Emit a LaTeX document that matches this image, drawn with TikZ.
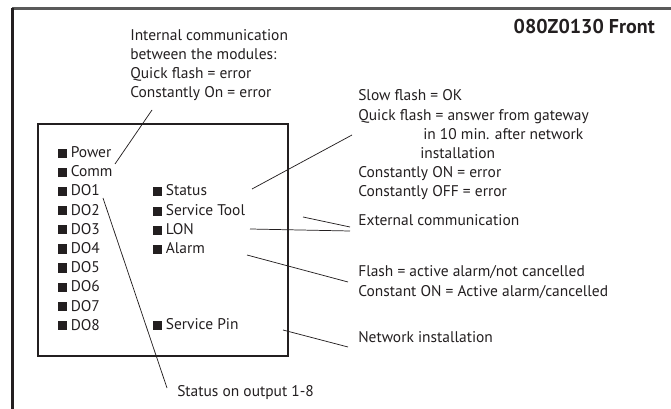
\documentclass[tikz,border=0pt]{standalone}
\usepackage{fontspec}
\setmainfont{PT Sans}
\usetikzlibrary{positioning}
\definecolor{ink}{HTML}{231F20}
\definecolor{rulegray}{HTML}{5A5A5A}
\newcommand{\ledsq}{\rule{6.8pt}{7pt}\hspace{2.6pt}}

\begin{document}
\begin{tikzpicture}[x=0.75pt, y=-0.75pt,
  led/.style={anchor=base west, inner sep=0pt, font=\fontsize{11.6}{14.4}\selectfont, text=ink},
  note/.style={anchor=west, align=left, inner sep=0pt, font=\fontsize{11.6}{14.4}\selectfont, text=ink},
  lead/.style={draw=ink, line width=0.55pt}
]
\useasboundingbox (0,0) rectangle (671,409);

% page frame
\draw[line width=1.6pt, rulegray] (12,8.5) -- (671,8.5);
\draw[line width=1.6pt, ink] (12.5,8) -- (12.5,409);

\node[anchor=east, inner sep=0pt, font=\fontsize{15}{18}\selectfont\bfseries, text=ink] (title) at (655,27) {080Z0130 Front};

% front panel
\node[draw=ink, line width=0.8pt, minimum width=187.5pt, minimum height=174pt, inner sep=0pt] (panel) at (163,240) {};

\node[led] (power) at (58,158) {\ledsq Power};
\node[led] (comm) at (58,177) {\ledsq Comm};
\foreach \i in {1,...,8}
  \node[led] (do\i) at (58,{196+19.2*(\i-1)}) {\ledsq DO\i};
\node[led] (status) at (153,196) {\ledsq Status};
\node[led] (tool) at (153,216) {\ledsq Service Tool};
\node[led] (lon) at (153,235) {\ledsq LON};
\node[led] (alarm) at (153,254) {\ledsq Alarm};
\node[led] (pin) at (153,330) {\ledsq Service Pin};

% explanations
\node[note] (internal) at (130,65) {Internal communication\\between the modules:\\Quick flash = error\\Constantly On = error};
\node[note] (flashes) at (358,145) {Slow flash = OK\\Quick flash = answer from gateway\\\hspace*{48.75pt}in 10 min. after network\\\hspace*{46.5pt}installation\\Constantly ON = error\\Constantly OFF = error};
\node[note] (external) at (358,220) {External communication};
\node[note] (alarmtxt) at (358,282) {Flash = active alarm/not cancelled\\Constant ON = Active alarm/cancelled};
\node[note] (network) at (358,337) {Network installation};
\node[note] (outputs) at (177,393) {Status on output 1-8};

% leader lines
\coordinate (internalTip) at (152,110);
\coordinate (commTip) at (115,164);
\coordinate (statusTip) at (252,189);
\coordinate (flashesTip) at (352,135);
\coordinate (toolTip) at (303,217);
\coordinate (lonTip) at (250,229);
\coordinate (externalTop) at (350,227);
\coordinate (externalBot) at (350,231);
\coordinate (alarmTip) at (247,255);
\coordinate (alarmtxtTip) at (348,282);
\coordinate (pinTip) at (283,330);
\coordinate (networkTip) at (348,347);
\coordinate (doTip) at (103,198);
\coordinate (outputsTip) at (167,388);

\draw[lead] (internalTip) -- (commTip);
\draw[lead] (statusTip) -- (flashesTip);
\draw[lead] (toolTip) -- (externalTop);
\draw[lead] (lonTip) -- (externalBot);
\draw[lead] (alarmTip) -- (alarmtxtTip);
\draw[lead] (pinTip) -- (networkTip);
\draw[lead] (doTip) -- (outputsTip);

\end{tikzpicture}
\end{document}
